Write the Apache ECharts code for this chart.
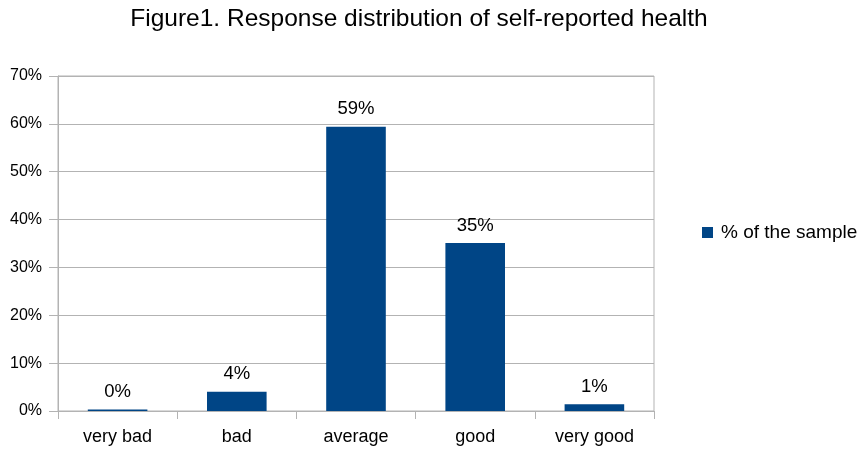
<!DOCTYPE html>
<html>
<head>
<meta charset="utf-8">
<script src="https://cdn.jsdelivr.net/npm/echarts@6/dist/echarts.min.js"></script>
<style>
  html, body { margin: 0; padding: 0; background: #fff; }
  #chart { width: 859px; height: 453px; }
</style>
</head>
<body>
<div id="chart"></div>
<script>
var categories = ['very bad', 'bad', 'average', 'good', 'very good'];
var sampleShare = [0.3, 4.0, 59.4, 35.1, 1.4];
var seriesName = '% of the sample';
var yTicks = [0, 10, 20, 30, 40, 50, 60, 70];

var gridGrey = '#b3b3b3';
var font = 'Liberation Sans, Arial, sans-serif';

var myChart = echarts.init(document.getElementById('chart'));

myChart.setOption({
    backgroundColor: '#ffffff',
    animation: false,
    title: {
        text: 'Figure1. Response distribution of self-reported health',
        left: 414,
        textAlign: 'center',
        top: 2,
        textStyle: { fontFamily: font, fontSize: 24.5, fontWeight: 'normal', color: '#000' }
    },
    legend: {
        data: [seriesName],
        orient: 'vertical',
        left: 697,
        top: 218,
        icon: 'rect',
        itemWidth: 11,
        itemHeight: 11,
        textStyle: { fontFamily: font, fontSize: 19, color: '#000', padding: [0, 0, 0, 3] }
    },
    grid: {
        left: 58, right: 205, top: 76, bottom: 42,
        show: true, borderColor: gridGrey, borderWidth: 1
    },
    xAxis: {
        type: 'category',
        data: categories,
        axisLine: { lineStyle: { color: gridGrey } },
        axisTick: { show: true, length: 8, lineStyle: { color: gridGrey } },
        axisLabel: { fontFamily: font, fontSize: 18, color: '#000', margin: 17 }
    },
    yAxis: {
        type: 'value',
        min: yTicks[0],
        max: yTicks[yTicks.length - 1],
        interval: 10,
        axisLine: { show: true, lineStyle: { color: gridGrey } },
        axisTick: { show: true, length: 9, lineStyle: { color: gridGrey } },
        splitLine: { lineStyle: { color: gridGrey } },
        axisLabel: {
            fontFamily: font, fontSize: 16, color: '#000', margin: 16,
            formatter: function (v) { return v + '%'; }
        }
    },
    series: [{
        name: seriesName,
        type: 'bar',
        data: sampleShare,
        barWidth: '50%',
        itemStyle: { color: '#004586' },
        label: {
            show: true,
            position: 'top',
            distance: 8,
            fontFamily: font,
            fontSize: 18.5,
            color: '#000',
            formatter: function (p) { return Math.round(p.value) + '%'; }
        }
    }]
});
</script>
</body>
</html>
